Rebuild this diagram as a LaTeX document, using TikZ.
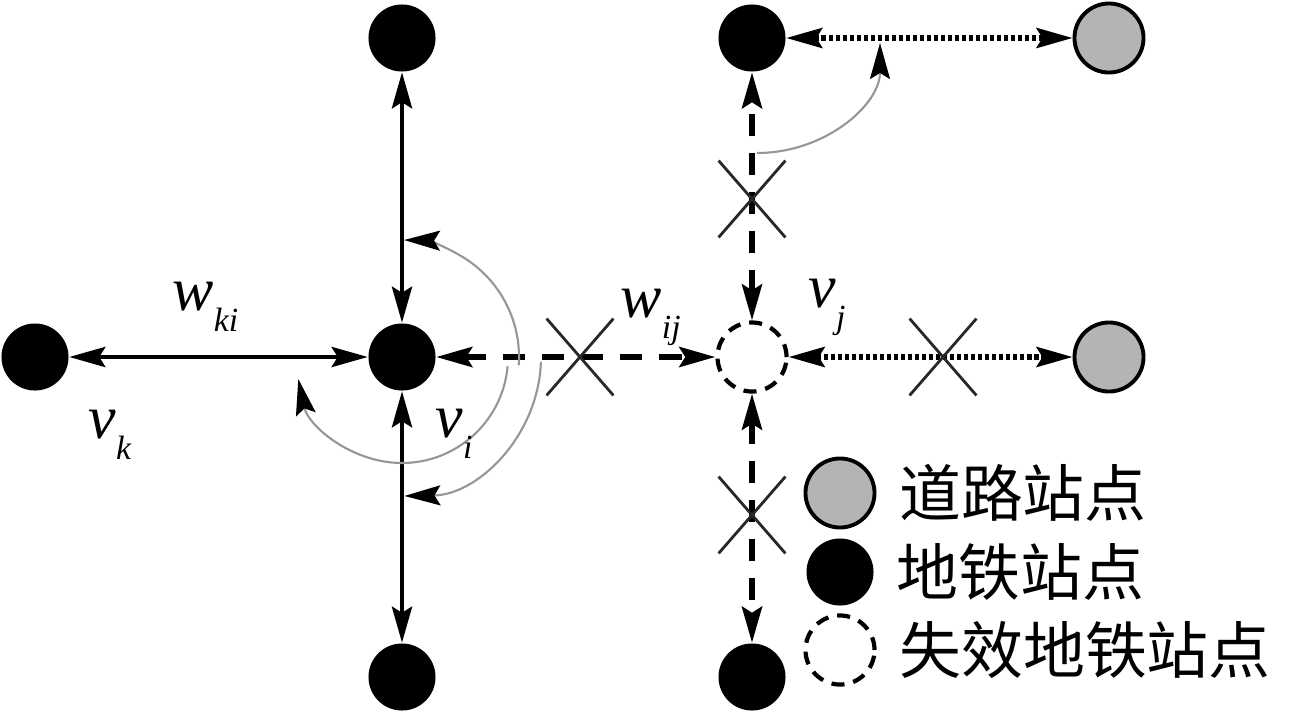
\documentclass[tikz,border=0pt]{standalone}
\usepackage{fontspec}
\setmainfont{Liberation Serif}
\newfontfamily\cjk{Noto Sans CJK SC}
\usetikzlibrary{arrows.meta,shapes.misc,positioning}

\definecolor{roadgray}{RGB}{180,180,180}
\definecolor{flowgray}{RGB}{150,150,150}
\definecolor{cutgray}{RGB}{40,40,40}

\newcommand{\sublbl}[2]{\textit{#1}\raisebox{-6.2pt}{\fontsize{9.6}{10}\selectfont\textit{#2}}}

\tikzset{
  metro/.style={circle, fill=black, inner sep=0pt, minimum size=0.67cm},
  road/.style={circle, draw=black, line width=1.1pt, fill=roadgray, inner sep=0pt, minimum size=0.69cm},
  failed/.style={circle, draw=black, line width=1.2pt, dash pattern=on 0.13cm off 0.09cm, fill=white, inner sep=0pt, minimum size=0.69cm},
  link/.style={line width=1.3pt, <->},
  brokenlink/.style={line width=1.6pt, dash pattern=on 0.22cm off 0.17cm, <->},
  roadlink/.style={line width=1.5pt, dash pattern=on 0.045cm off 0.025cm, <->},
  cut/.style={cross out, draw=cutgray, line width=0.8pt, inner sep=0pt, minimum width=0.64cm, minimum height=0.74cm},
  flow/.style={draw=flowgray, line width=0.6pt, -{Stealth[length=0.36cm,width=0.2cm,inset=0.06cm,color=black]}},
  lbl/.style={inner sep=0pt, font=\fontsize{17.6}{20}\selectfont},
  legend/.style={inner sep=0pt, font=\cjk\fontsize{17.6}{20}\selectfont}
}

\begin{document}
\begin{tikzpicture}[x=0.01cm,y=0.01cm,>={Stealth[length=0.36cm,width=0.2cm,inset=0.06cm]}]
\useasboundingbox (0,0) rectangle (1300,714);
% stations
\node[metro] (top) at (402,676) {};
\node[metro] (vk) at (35,357) {};
\node[metro] (vi) at (402,357) {};
\node[metro] (bot) at (402,37) {};
\node[metro] (topr) at (752,676) {};
\node[road] (roadt) at (1109,676) {};
\node[failed] (vj) at (752,357) {};
\node[road] (roadr) at (1109,357) {};
\node[metro] (botr) at (752,37) {};

% links
\draw[link] (vi) -- (top);
\draw[link] (vk) -- (vi);
\draw[link] (vi) -- (bot);
\draw[brokenlink] (vi) -- (vj);
\draw[brokenlink] (vj) -- (topr);
\draw[brokenlink] (vj) -- (botr);
\draw[roadlink] (vj) -- (roadr);
\draw[roadlink] (topr) -- (roadt);

% cut links
\node[cut] (cij) at (580,357) {};
\node[cut] (cup) at (752,515) {};
\node[cut] (cdown) at (752,199) {};
\node[cut] (croad) at (943,357) {};

% redistributed load
\draw[flow] ([shift={(-4:117)}]vi.center) arc[start angle=-4, end angle=89, radius=117];
\draw[flow] ([shift={(-5:106)}]vi.center) arc[start angle=-5, end angle=-168, radius=106];
\draw[flow] ([shift={(-2:139)}]vi.center) arc[start angle=-2, end angle=-89, radius=139];
\coordinate (fs) at (757,561);
\coordinate (fe) at (880,671);
\draw[flow] (fs) .. controls (825,561) and (880,609) .. (fe);

% labels
\node[lbl, anchor=base west] (wki) at (172,404) {\sublbl{w}{ki}};
\node[lbl, anchor=base west] (lvk) at (88,276) {\sublbl{v}{k}};
\node[lbl, anchor=base west] (lvi) at (435,277) {\sublbl{v}{i}};
\node[lbl, anchor=base west] (wij) at (620,397) {\sublbl{w}{ij}};
\node[lbl, anchor=base west] (lvj) at (808,407) {\sublbl{v}{j}};

% legend
\node[road] (lg1) at (840,221) {};
\node[metro] (lg2) at (840,142) {};
\node[failed] (lg3) at (840,64) {};
\node[legend, right=0.22cm of lg1] (t1) {道路站点};
\node[legend, right=0.22cm of lg2] (t2) {地铁站点};
\node[legend, right=0.22cm of lg3] (t3) {失效地铁站点};
\end{tikzpicture}
\end{document}
